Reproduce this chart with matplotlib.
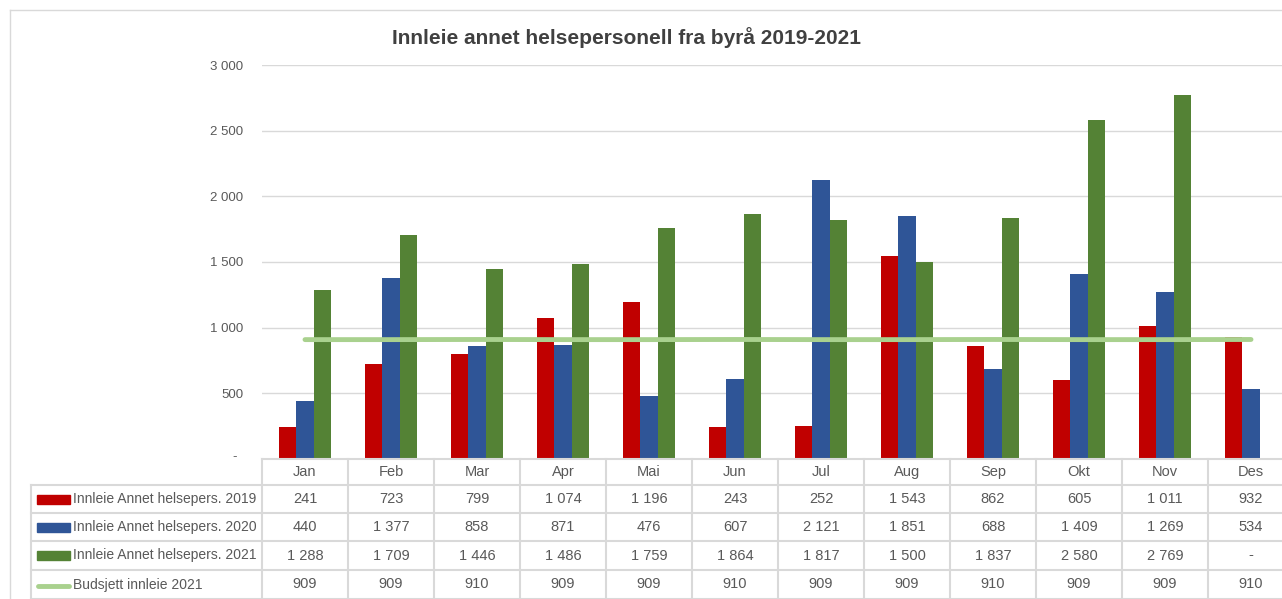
import matplotlib.pyplot as plt
import numpy as np

plt.rcParams['font.family'] = ['Liberation Sans', 'DejaVu Sans']

months = ['Jan', 'Feb', 'Mar', 'Apr', 'Mai', 'Jun', 'Jul', 'Aug', 'Sep', 'Okt', 'Nov', 'Des']
v2019 = [241, 723, 799, 1074, 1196, 243, 252, 1543, 862, 605, 1011, 932]
v2020 = [440, 1377, 858, 871, 476, 607, 2121, 1851, 688, 1409, 1269, 534]
v2021 = [1288, 1709, 1446, 1486, 1759, 1864, 1817, 1500, 1837, 2580, 2769, None]
budget = [909, 909, 910, 909, 909, 910, 909, 909, 910, 909, 909, 910]

names = ['Innleie Annet helsepers. 2019', 'Innleie Annet helsepers. 2020',
         'Innleie Annet helsepers. 2021', 'Budsjett innleie 2021']
colors = ['#C00000', '#2F5597', '#548235', '#A9D18E']
title = 'Innleie annet helsepersonell fra byrå 2019-2021'

W, H = 1282, 599
fig = plt.figure(figsize=(W / 100, H / 100), dpi=100)

# pixel layout
col_w = 86
tab_x0 = 262
ax_left = 262
plot_top, plot_bot = 65, 459

def fmt(v):
    if v is None or v == 0:
        return '-'
    return f'{v:,}'.replace(',', ' ')

ax = fig.add_axes([ax_left / W, (H - plot_bot) / H, (W - ax_left) / W, (plot_bot - plot_top) / H])
x = np.arange(len(months))
xl = -0.5 - (tab_x0 - ax_left) / col_w
ax.set_xlim(xl, xl + (W - ax_left) / col_w)
ax.set_ylim(0, 3000)

bw = 0.2
ax.bar(x - bw, v2019, bw, color=colors[0], zorder=3)
ax.bar(x, v2020, bw, color=colors[1], zorder=3)
ax.bar(x + bw, [v if v is not None else 0 for v in v2021], bw, color=colors[2], zorder=3)
ax.plot(x, budget, color=colors[3], lw=3.5, solid_capstyle='round', zorder=4)

ax.set_yticks(range(500, 3001, 500))
ax.yaxis.grid(True, color='#D9D9D9', lw=1)
ax.set_xticks([])
ax.tick_params(axis='y', length=0, pad=13.5, labelsize=9.5, labelcolor='#595959')
ax.set_yticklabels([fmt(v) for v in range(500, 3001, 500)])
for s in ax.spines.values():
    s.set_visible(False)

# overlay in pixel coordinates for table and frame
ov = fig.add_axes([0, 0, 1, 1], zorder=5)
ov.set_xlim(0, W)
ov.set_ylim(H, 0)
ov.axis('off')
ov.patch.set_alpha(0)

gc = '#D9D9D9'
tc = '#595959'
ov.plot([10, W], [10, 10], color=gc, lw=1)
ov.plot([10, 10], [10, H], color=gc, lw=1)
ov.text(237, 457, '-', ha='right', va='center', fontsize=9.5, color=tc)

rows_y = [459, 485, 513, 541, 570, 599]
ov.plot([tab_x0, W], [rows_y[0], rows_y[0]], color=gc, lw=1.5)
for yy in rows_y[1:]:
    ov.plot([31, W], [yy, yy], color=gc, lw=1.5)
ov.plot([31, 31], [rows_y[1], H], color=gc, lw=1.5)
for i in range(len(months) + 1):
    xx = tab_x0 + i * col_w
    ov.plot([xx, xx], [rows_y[0], H], color=gc, lw=1.5)

for i, m in enumerate(months):
    cx = tab_x0 + (i + 0.5) * col_w
    ov.text(cx, (rows_y[0] + rows_y[1]) / 2, m, ha='center', va='center', fontsize=10.5, color=tc)
    for r, series in enumerate([v2019, v2020, v2021, budget]):
        ov.text(cx, (rows_y[r + 1] + rows_y[r + 2]) / 2, fmt(series[i]),
                ha='center', va='center', fontsize=10.5, color=tc)

for r, name in enumerate(names):
    cy = (rows_y[r + 1] + rows_y[r + 2]) / 2
    if r < 3:
        ov.add_patch(plt.Rectangle((37, cy - 4.5), 33, 9, color=colors[r]))
    else:
        ov.plot([38, 69], [cy + 1, cy + 1], color=colors[r], lw=3.5, solid_capstyle='round')
    ov.text(73, cy, name, ha='left', va='center', fontsize=10, color=tc)

fig.text(627 / W, 1 - 38 / H, title, ha='center', va='center', fontsize=15,
         fontweight='bold', color='#404040')

fig.savefig('out.png', dpi=100)
